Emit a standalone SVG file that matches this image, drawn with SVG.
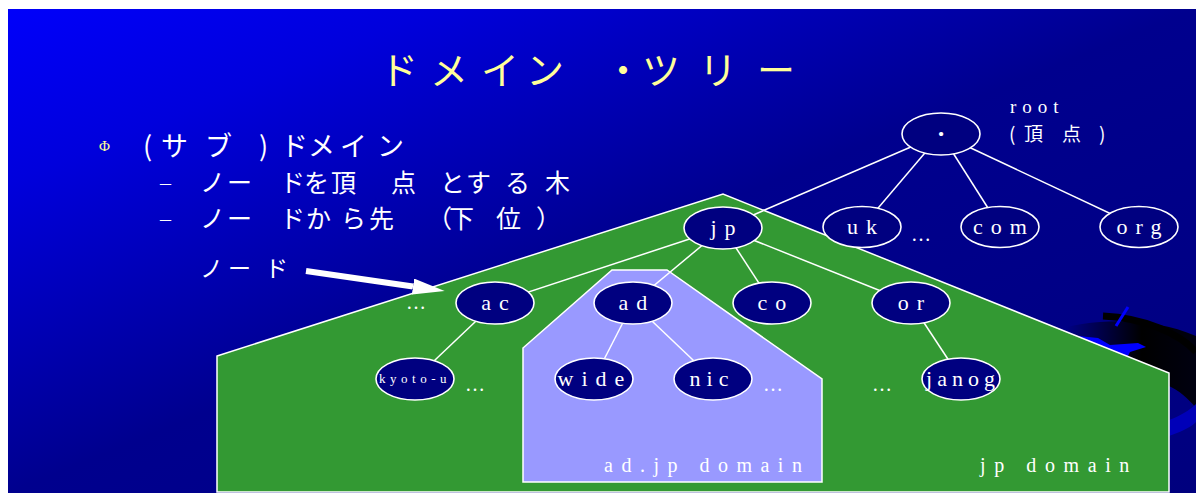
<svg xmlns="http://www.w3.org/2000/svg" width="1196" height="494" viewBox="0 0 1196 494">
  <defs>
    <linearGradient id="bg" x1="0" y1="0" x2="1" y2="1">
      <stop offset="0" stop-color="#0000FA"/>
      <stop offset="0.18" stop-color="#0000DC"/>
      <stop offset="0.5" stop-color="#00008E"/>
      <stop offset="1" stop-color="#00007E"/>
    </linearGradient>
    <linearGradient id="ringShade" x1="1060" y1="0" x2="1196" y2="0" gradientUnits="userSpaceOnUse">
      <stop offset="0" stop-color="#000090"/>
      <stop offset="0.6" stop-color="#000000"/>
      <stop offset="1" stop-color="#000010"/>
    </linearGradient>
    <marker id="head" markerUnits="userSpaceOnUse" markerWidth="32" markerHeight="16" refX="0" refY="8" orient="auto">
      <path d="M0,0 L32,8 L0,16 Z" fill="#FFFFFF"/>
    </marker>
    <style>
      .node ellipse { fill: #000080; stroke: #FFFFFF; stroke-width: 1.6; }
      .lbl { font-family: "Liberation Serif", "Times New Roman", serif; font-size: 22px; fill: #FFFFFF; text-anchor: middle; letter-spacing: 8px; }
      .edge { stroke: #FFFFFF; stroke-width: 1.5; fill: none; }
      .jp { font-family: "Noto Sans CJK JP", "Noto Sans", sans-serif; fill: #FFFFFF; }
      .serif { font-family: "Liberation Serif", "Times New Roman", serif; fill: #FFFFFF; }
      .dots { font-family: "Liberation Serif", serif; font-size: 20px; fill: #FFFFFF; }
    </style>
  </defs>

  <!-- slide background -->
  <rect x="0" y="0" width="1196" height="494" fill="#FFFFFF"/>
  <rect x="8" y="9" width="1188" height="484" fill="url(#bg)"/>

  <!-- decorative ring at right edge, mostly behind the jp area -->
  <g id="ornament">
    <path d="M1050,332 C1090,318 1150,316 1196,336 L1196,408 C1188,398 1178,390 1169,386 L1060,338 Z" fill="url(#ringShade)"/>
    <path d="M1103,316 C1145,318 1180,334 1196,352" stroke="#000000" stroke-width="7" fill="none"/>
    <path d="M1169,420 C1180,416 1190,410 1196,404 L1196,422 C1190,428 1180,432 1169,436 Z" fill="#0000B8"/>
    <path d="M1078,336 L1098,338 L1110,345 L1138,343 L1146,347 L1130,352 L1126,360 L1118,352 L1100,351 Z" fill="#0000FF"/>
    <line x1="1116" y1="326" x2="1128" y2="307" stroke="#0000FF" stroke-width="3"/>
  </g>

  <!-- domain regions -->
  <g id="jp-domain">
    <polygon points="217,356 723,194 1169,373 1169,492 217,492" fill="#339933" stroke="#FFFFFF" stroke-width="1.5"/>
    <text class="serif" x="980" y="472" font-size="20" letter-spacing="8.6">jp domain</text>
  </g>
  <g id="adjp-domain">
    <polygon points="523,348 612,270 667,270 822,379 822,482 523,482" fill="#9999FF" stroke="#FFFFFF" stroke-width="1.5"/>
    <text class="serif" x="604" y="472" font-size="20" letter-spacing="8.5">ad.jp domain</text>
  </g>

  <!-- tree edges -->
  <g id="connectors">
    <line class="edge" x1="941" y1="134" x2="723" y2="228"/>
    <line class="edge" x1="941" y1="134" x2="862" y2="227"/>
    <line class="edge" x1="941" y1="134" x2="1000" y2="227"/>
    <line class="edge" x1="941" y1="134" x2="1139" y2="227"/>
    <line class="edge" x1="723" y1="228" x2="495" y2="303"/>
    <line class="edge" x1="723" y1="228" x2="633" y2="303"/>
    <line class="edge" x1="723" y1="228" x2="772" y2="303"/>
    <line class="edge" x1="723" y1="228" x2="911" y2="303"/>
    <line class="edge" x1="495" y1="303" x2="415" y2="379"/>
    <line class="edge" x1="633" y1="303" x2="594" y2="379"/>
    <line class="edge" x1="633" y1="303" x2="713" y2="379"/>
    <line class="edge" x1="911" y1="303" x2="961" y2="379"/>
    <!-- pointer to a node -->
    <line x1="306" y1="271" x2="413" y2="286.5" stroke="#FFFFFF" stroke-width="6" marker-end="url(#head)"/>
  </g>

  <!-- nodes -->
  <g id="n-root" class="node"><ellipse cx="941" cy="134" rx="39" ry="21"/><text class="serif" x="941" y="142" font-size="26" font-weight="bold" text-anchor="middle">·</text></g>
  <g id="n-uk" class="node"><ellipse cx="862" cy="227" rx="39" ry="20.5"/><text class="lbl" x="866" y="234">uk</text></g>
  <g id="n-com" class="node"><ellipse cx="1000" cy="227" rx="39" ry="20.5"/><text class="lbl" x="1004" y="234">com</text></g>
  <g id="n-org" class="node"><ellipse cx="1139" cy="227" rx="39" ry="20.5"/><text class="lbl" x="1143" y="234">org</text></g>
  <g id="n-jp" class="node"><ellipse cx="723" cy="228" rx="39" ry="21"/><text class="lbl" x="727" y="235">jp</text></g>
  <g id="n-ac" class="node"><ellipse cx="495" cy="303" rx="39" ry="21"/><text class="lbl" x="499" y="310">ac</text></g>
  <g id="n-ad" class="node"><ellipse cx="633" cy="303" rx="39" ry="21"/><text class="lbl" x="637" y="310">ad</text></g>
  <g id="n-co" class="node"><ellipse cx="772" cy="303" rx="39" ry="21"/><text class="lbl" x="776" y="310">co</text></g>
  <g id="n-or" class="node"><ellipse cx="911" cy="303" rx="39" ry="21"/><text class="lbl" x="915" y="310">or</text></g>
  <g id="n-kyoto-u" class="node"><ellipse cx="415" cy="379" rx="39" ry="21"/><text class="lbl" x="415" y="383" style="font-size:13px;letter-spacing:4.5px">kyoto-u</text></g>
  <g id="n-wide" class="node"><ellipse cx="594" cy="379" rx="39" ry="21"/><text class="lbl" x="595" y="386">wide</text></g>
  <g id="n-nic" class="node"><ellipse cx="713" cy="379" rx="39" ry="21"/><text class="lbl" x="712" y="386" style="letter-spacing:6px">nic</text></g>
  <g id="n-janog" class="node"><ellipse cx="961" cy="379" rx="39" ry="21"/><text class="lbl" x="963" y="386" style="letter-spacing:5px">janog</text></g>

  <!-- elided siblings -->
  <g id="ellipses">
    <text class="dots" x="406" y="309">…</text>
    <text class="dots" x="465" y="391">…</text>
    <text class="dots" x="763" y="391">…</text>
    <text class="dots" x="872" y="391">…</text>
    <text class="dots" x="911" y="241">…</text>
  </g>

  <!-- root annotation -->
  <g id="root-label">
    <text class="serif" x="1010" y="113" font-size="19" letter-spacing="6">root</text>
    <text class="jp" y="141" font-size="19" x="1009 1024 1062 1099">(頂点)</text>
  </g>

  <!-- title -->
  <text id="title" font-family="Noto Sans CJK JP, Noto Sans, sans-serif" font-size="38" fill="#FFFF99" y="84" x="380 430 481 526 604 642 699 757">ドメイン・ツリー</text>

  <!-- bullet list -->
  <g id="bullets">
    <text x="99" y="151" font-family="Liberation Serif, serif" font-size="15" fill="#FFFF99">Φ</text>
    <text class="jp" font-size="27" y="156" x="143 161 205 259 281 308 340 377">(サブ)ドメイン</text>
    <text class="serif" font-size="22" y="190" x="160">–</text>
    <text class="jp" font-size="25" y="192" x="200 227 280 304 331 391 440 466 505 545">ノードを頂点とする木</text>
    <text class="serif" font-size="22" y="226" x="160">–</text>
    <text class="jp" font-size="25" y="228" x="200 227 280 306 341 369 427 449 496 536">ノードから先（下位）</text>
    <text class="jp" font-size="23" y="277" x="200 228 265">ノード</text>
  </g>
</svg>
